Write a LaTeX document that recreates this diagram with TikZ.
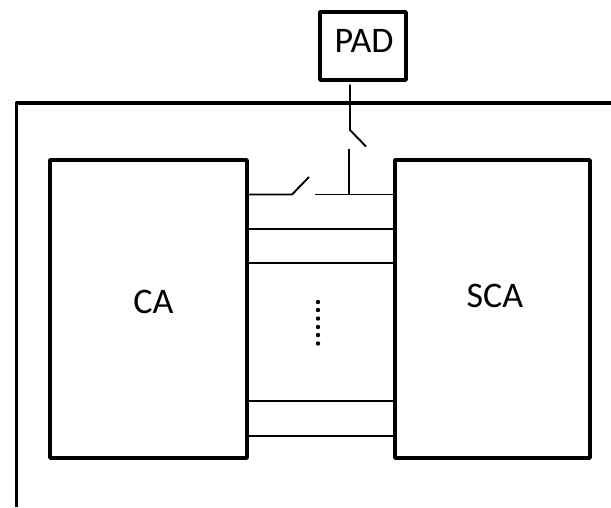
\documentclass[tikz,border=0pt]{standalone}
\usepackage{fontspec}
\setmainfont{Carlito}
\usepackage{tikz}
\usetikzlibrary{positioning}
\tikzset{
  blockbox/.style={draw=black, line width=3.8pt, line join=round, inner sep=0pt},
  blocklabel/.style={inner sep=0pt, font=\fontsize{36}{36}\selectfont},
  wire/.style={draw=black, line width=1.9pt},
  dotmark/.style={circle, fill=black, inner sep=0pt, minimum size=4.4pt}
}
\begin{document}
\begin{tikzpicture}[x=1pt,y=-1pt]
  \useasboundingbox (0,0) rectangle (611,507);
  % chip outline, open towards the right and the bottom
  \draw[line width=3.8pt, line join=round] (16.5,507) -- (16.5,103) -- (611,103);
  \node[blockbox, minimum width=197pt, minimum height=298pt] (ca) at (148.5,309) {};
  \node[blockbox, minimum width=195pt, minimum height=298pt] (sca) at (492.5,309) {};
  \node[blockbox, minimum width=86pt, minimum height=68pt] (pad) at (363,46) {};
  \node[blocklabel] (calbl) at (153.5,302) {CA};
  \node[blocklabel] (scalbl) at (495,296) {SCA};
  \node[blocklabel] (padlbl) at (364,41) {PAD};
  % bus lines
  \foreach \y in {229,263,401,436} {
    \draw[wire] (ca.east |- 0,\y) -- (sca.west |- 0,\y);
  }
  % switched line
  \coordinate (swa) at (292,194.5);
  \coordinate (swb) at (309,177);
  \coordinate (swc) at (315,194.5);
  \coordinate (tee) at (349,194.5);
  \coordinate (padtop) at (350,84.5);
  \coordinate (padsw) at (350,130);
  \coordinate (padswend) at (366,146.5);
  \coordinate (teetop) at (349,149);
  \draw[wire] (ca.east |- swa) -- (swa) -- (swb);
  \draw[wire] (swc) -- (sca.west |- swc);
  \draw[wire] (tee) -- (teetop);
  \draw[wire] (padtop) -- (padsw) -- (padswend);
  % ellipsis between the lines
  \foreach \i/\y in {0/302,1/310,2/318.5,3/327,4/335,5/343.5} {
    \node[dotmark] (dot\i) at (318,\y) {};
  }
\end{tikzpicture}
\end{document}
